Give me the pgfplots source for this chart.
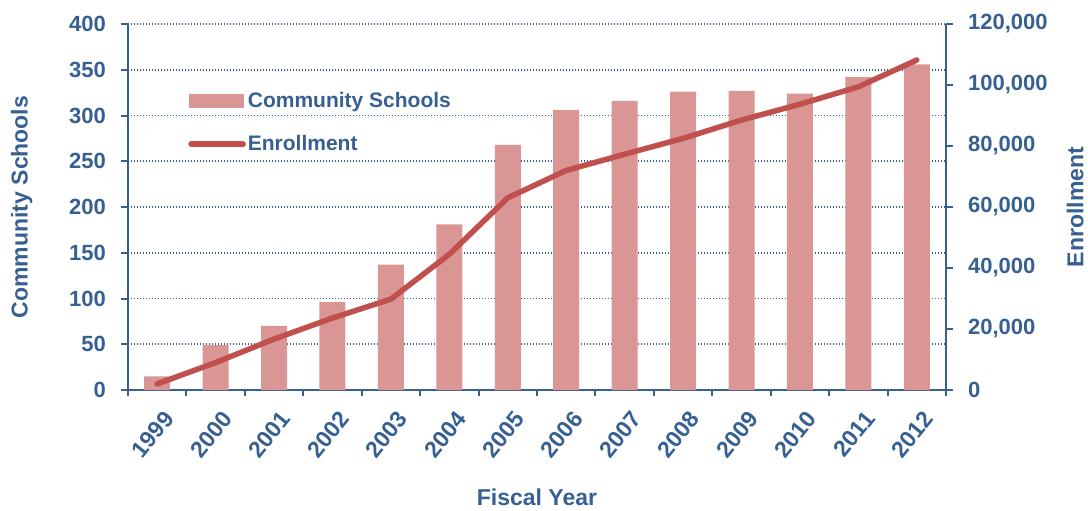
\documentclass[border=0pt]{standalone}
\usepackage{fontspec}
\setmainfont{Liberation Sans}
\usepackage{pgfplots}
\pgfplotsset{compat=1.18}
\definecolor{axc}{HTML}{376092}
\definecolor{barc}{HTML}{D99694}
\definecolor{linec}{HTML}{C0504D}
\begin{document}
\begin{tikzpicture}
\path[use as bounding box] (-64pt,-60pt) rectangle (480pt,195pt);
\pgfplotsset{
  common/.style={
    width=409pt, height=183pt, scale only axis,
    xmin=-0.5, xmax=13.5,
    tick align=outside,
    /pgf/number format/assume math mode=true,
    tick label style={font=\bfseries\fontsize{11}{13}\selectfont, text=axc},
    label style={font=\bfseries\fontsize{11.5}{13}\selectfont, text=axc},
    axis line style={draw=axc, line width=1pt},
    every tick/.style={draw=axc, line width=1pt},
    major tick length=3.5pt,
    minor tick length=3pt,
  }
}
\begin{axis}[common,
  axis x line*=bottom, axis y line*=left,
  ymin=0, ymax=400, ytick={0,50,...,400},
  xtick={0,...,13},
  xticklabels={1999,2000,2001,2002,2003,2004,2005,2006,2007,2008,2009,2010,2011,2012},
  minor xtick={-0.5,0.5,...,13.5},
  major x tick style={draw=none},
  xticklabel style={font=\bfseries\fontsize{11.5}{13}\selectfont, rotate=51, anchor=east, yshift=-10pt, xshift=0.5pt},
  yticklabel style={xshift=-4pt},
  ymajorgrids,
  major grid style={draw=axc, line width=0.8pt, dash pattern=on 0.6pt off 0.9pt},
  ylabel={Community Schools},
  ylabel style={at={(axis description cs:-0.13,0.5)}, anchor=center},
  xlabel={Fiscal Year},
  xlabel style={at={(axis description cs:0.5,-0.292)}, anchor=center},
]
\addplot[ybar, bar width=13pt, fill=barc, draw=none] coordinates {
(0,15) (1,49) (2,70) (3,96) (4,137) (5,181) (6,268) (7,306) (8,316) (9,326) (10,327) (11,324) (12,342) (13,356)
};
\end{axis}
\begin{axis}[common,
  axis y line*=right, axis x line=none,
  ymin=0, ymax=120000, ytick={0,20000,40000,60000,80000,100000,120000},
  yticklabels={0,{20,000},{40,000},{60,000},{80,000},{100,000},{120,000}},
  yticklabel style={xshift=4pt},
  scaled y ticks=false,
  ylabel={Enrollment},
  ylabel style={at={(axis description cs:1.158,0.5)}, anchor=center},
  legend style={at={(axis description cs:0.066,0.832)}, anchor=north west, draw=none, fill=none,
    font=\bfseries\fontsize{10.5}{12}\selectfont, text=axc, row sep=10.5pt,
    nodes={inner sep=1pt}},
  legend cell align=left,
]
\addlegendimage{legend image code/.code={\fill[barc] (0pt,-3.3pt) rectangle (27pt,3.3pt);}}
\addlegendentry{Community Schools}
\addplot[linec, line width=2.75pt, line cap=round, line join=round,
  legend image code/.code={\draw[linec, line width=2.75pt, line cap=round] (1pt,0pt) -- (27pt,0pt);}] coordinates {
(0,2000) (1,9000) (2,16700) (3,23600) (4,29800) (5,44500) (6,63000) (7,72000) (8,77300) (9,82500) (10,88500) (11,93700) (12,99400) (13,108200)
};
\addlegendentry{Enrollment}
\end{axis}
\end{tikzpicture}
\end{document}
